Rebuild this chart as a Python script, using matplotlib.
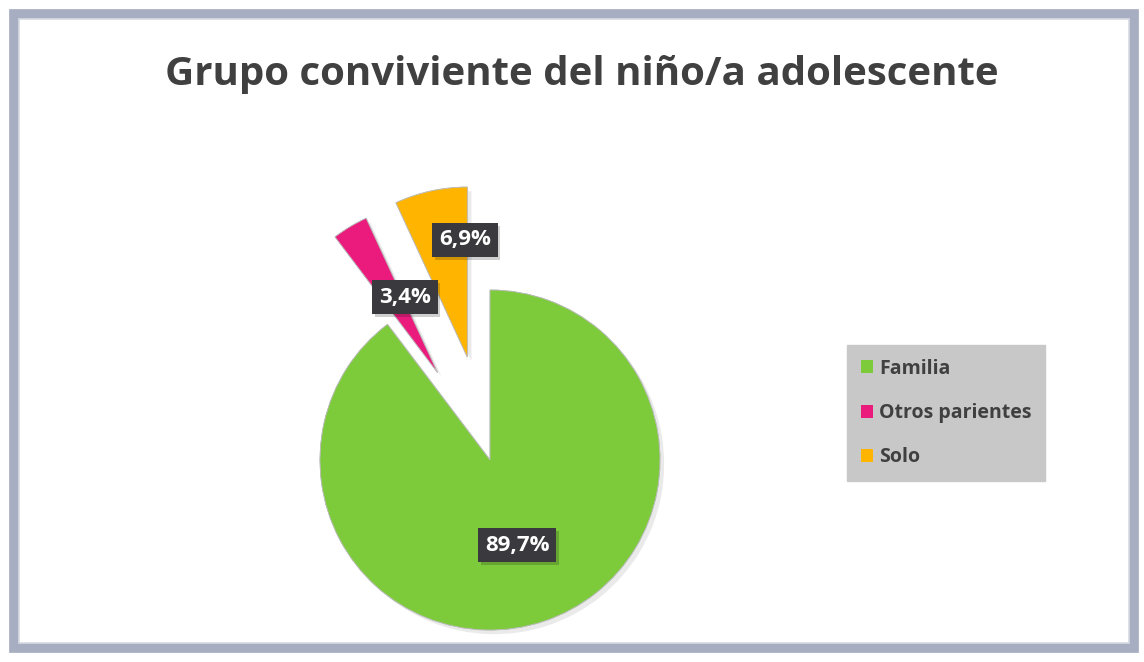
import matplotlib.pyplot as plt
import matplotlib.patches as mpatches
import matplotlib.patheffects as pe

# data
categories = ['Familia', 'Otros parientes', 'Solo']
values = [89.7, 3.4, 6.9]
labels = ['89,7%', '3,4%', '6,9%']
colors = ['#7DCB3B', '#EA1B7C', '#FFB400']
explode = [0, 0.6, 0.62]

plt.rcParams['font.family'] = ['Open Sans', 'DejaVu Sans']

W, H = 1144, 662
fig = plt.figure(figsize=(W / 100, H / 100), dpi=100)
fig.patch.set_facecolor('white')

# chart frame
frame = mpatches.Rectangle((14 / W, 14 / H), 1120 / W, 634 / H, transform=fig.transFigure,
                           fill=False, edgecolor='#A7AEC1', linewidth=7, zorder=0)
fig.add_artist(frame)
inner = mpatches.Rectangle((19 / W, 19 / H), 1110 / W, 624 / H, transform=fig.transFigure,
                           fill=False, edgecolor='#D5D9E2', linewidth=1.2, zorder=0)
fig.add_artist(inner)

fig.text(582 / W, 1 - 75 / H, 'Grupo conviviente del niño/a adolescente', ha='center', va='center',
         fontsize=29, fontweight='bold', color='#404040')

# pie axes: center at (490, 460) px, radius 170 px
R = 170
half = 1.5
size = 2 * half * R
cx, cy = 490, H - 460
ax = fig.add_axes([(cx - size / 2) / W, (cy - size / 2) / H, size / W, size / H])

wedges, texts, autotexts = ax.pie(values, colors=colors, explode=explode, startangle=90,
                                  counterclock=False, autopct='%1.1f%%',
                                  wedgeprops=dict(edgecolor='#BDBDBD', linewidth=0.6))
ax.set_xlim(-half, half)
ax.set_ylim(-half, half)
ax.axis('off')
for w in wedges:
    w.set_path_effects([pe.withSimplePatchShadow(offset=(3, -3), shadow_rgbFace='#999999', alpha=0.2),
                        pe.Normal()])

label_pos = [(517, 545), (405, 297), (465, 240)]
for t, lab, (px, py) in zip(autotexts, labels, label_pos):
    t.set_text(lab)
    t.set_position(((px - cx) / R, ((H - py) - cy) / R))
    t.set_color('white')
    t.set_fontsize(16)
    t.set_fontweight('bold')
    t.set_bbox(dict(boxstyle='square,pad=0.3', facecolor='#3A3A3E', edgecolor='none'))
    t.get_bbox_patch().set_path_effects([pe.withSimplePatchShadow(offset=(2, -2), alpha=0.2),
                                         pe.Normal()])

handles = [mpatches.Patch(facecolor=c, edgecolor='none') for c in colors]
leg = fig.legend(handles, categories, loc='upper left', bbox_to_anchor=(847 / W, 1 - 345 / H),
                 frameon=True, fancybox=False, facecolor='#C8C8C8', edgecolor='#C8C8C8',
                 framealpha=1, prop=dict(size=14, weight='bold'), labelcolor='#404040',
                 handlelength=0.65, handleheight=0.65, handletextpad=0.3,
                 labelspacing=1.25, borderpad=0.7, borderaxespad=0)

fig.savefig('out.png', dpi=100)
